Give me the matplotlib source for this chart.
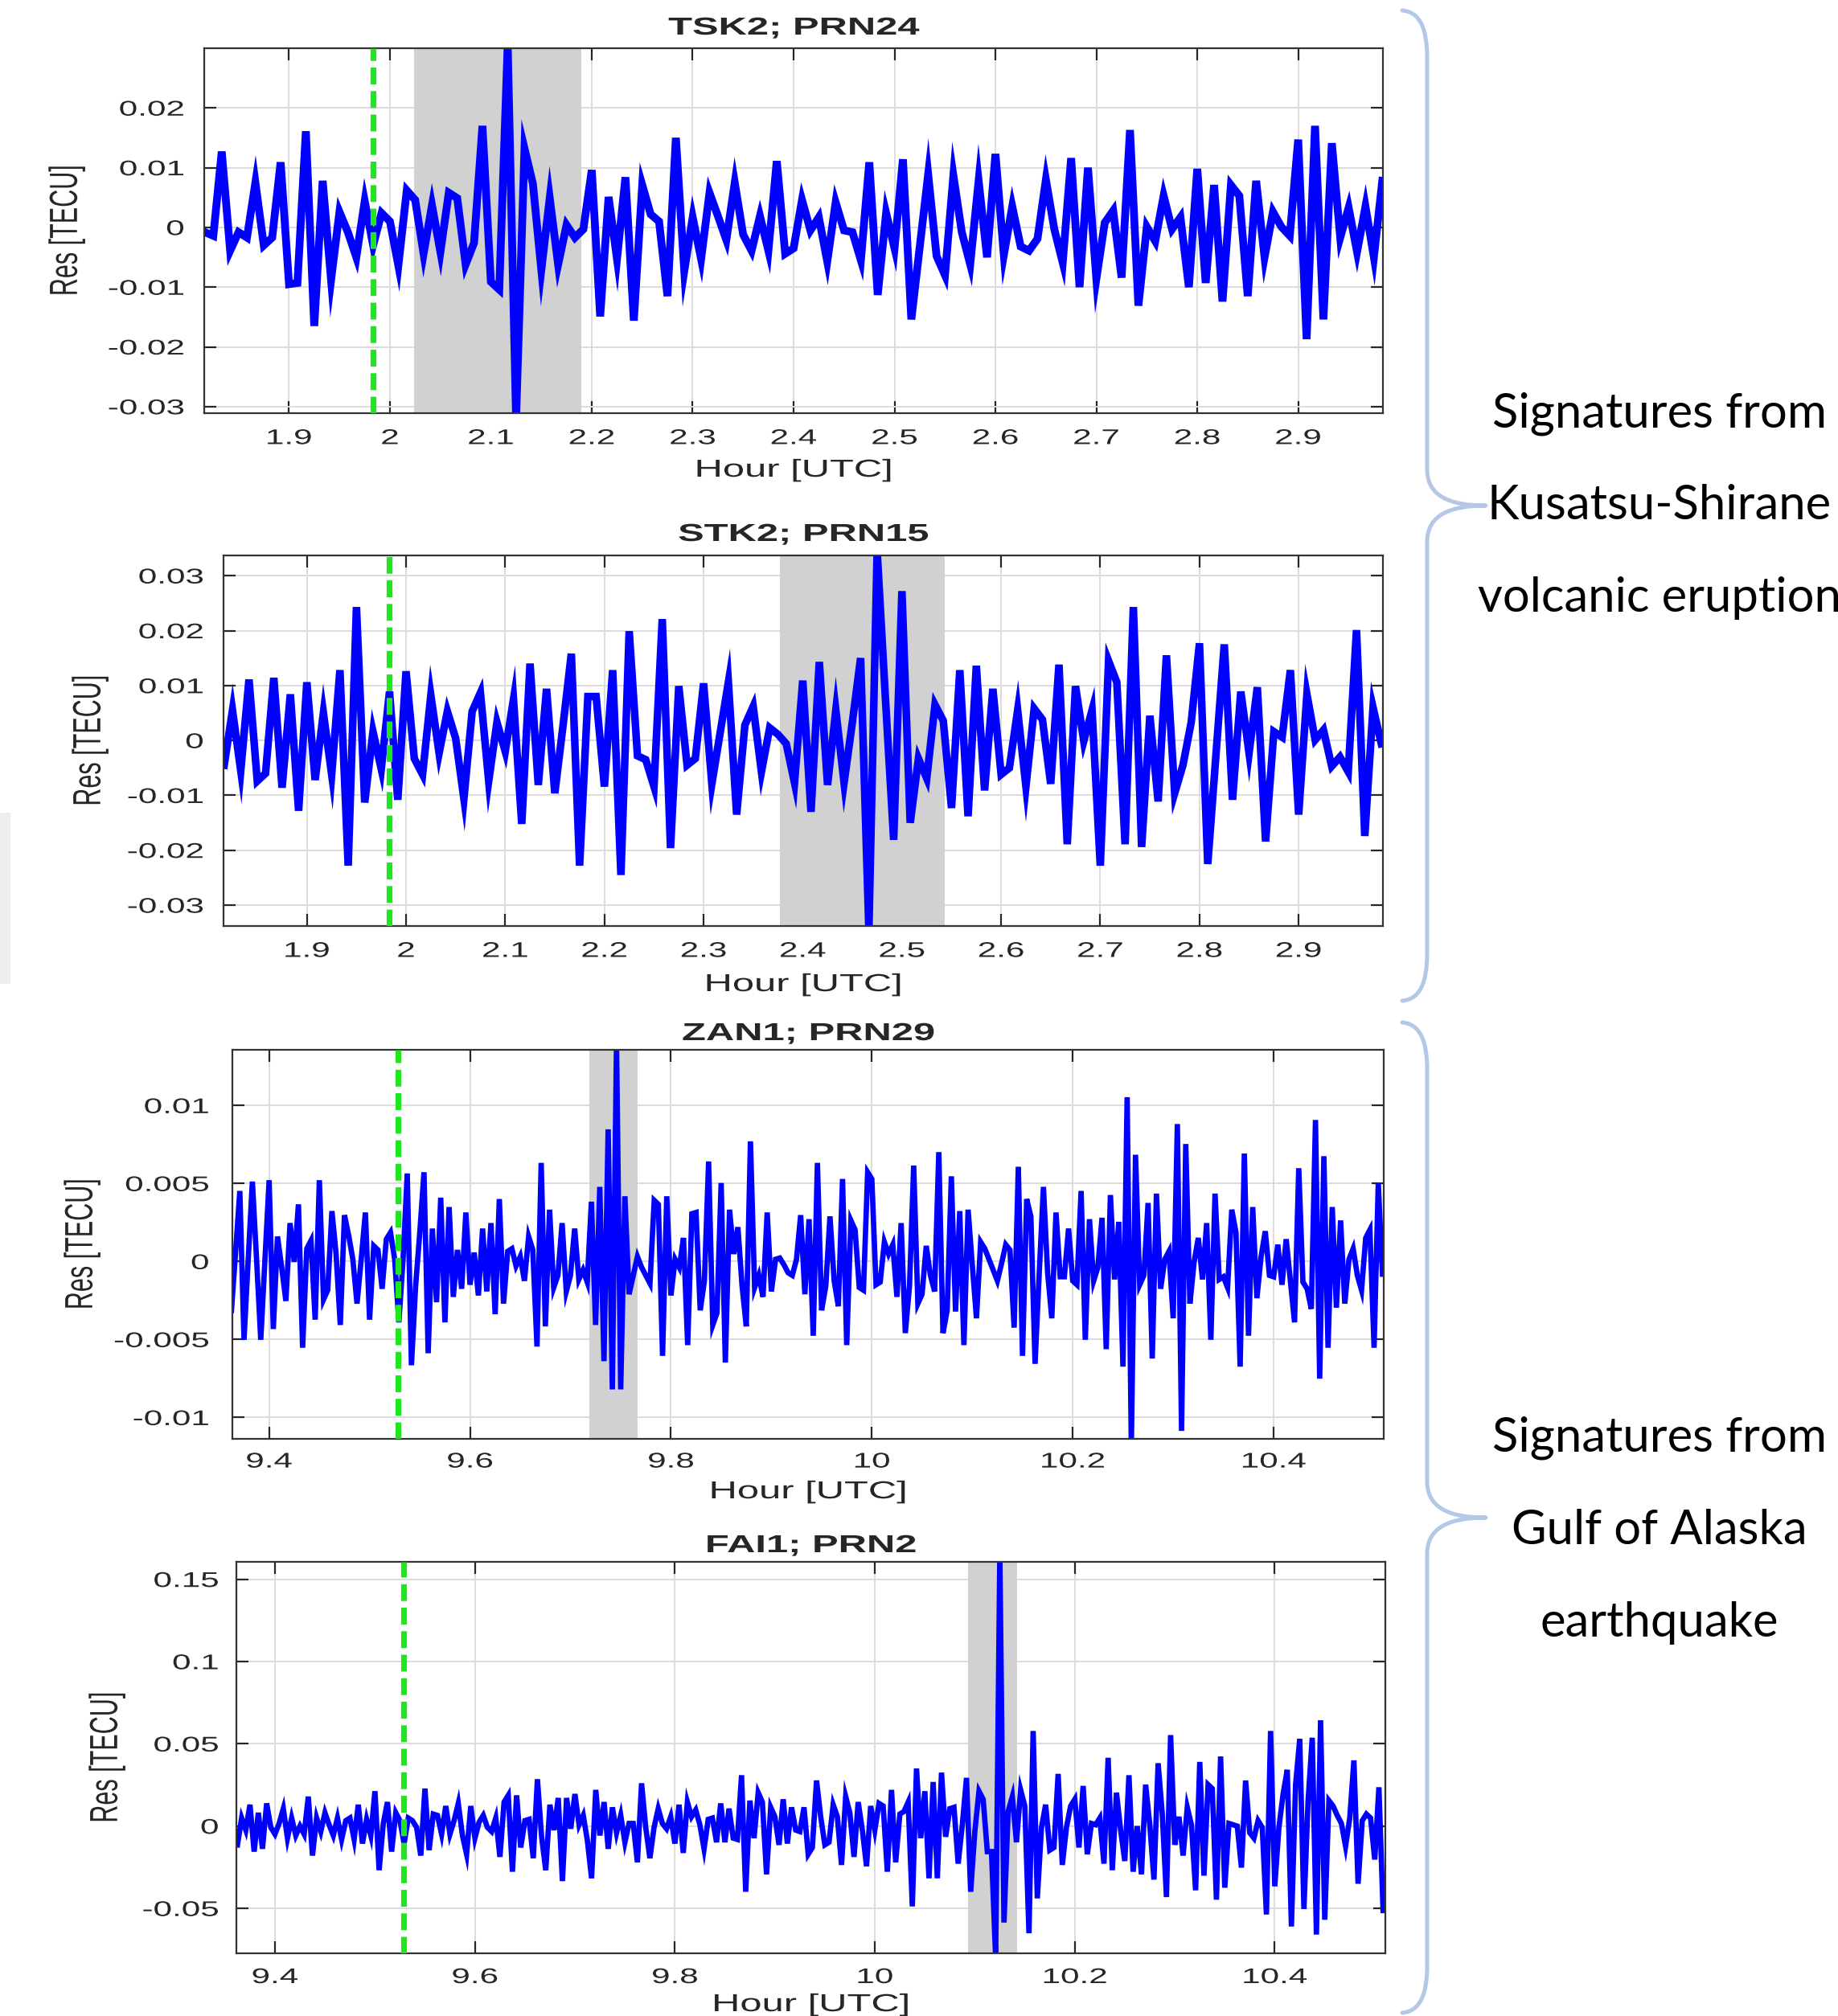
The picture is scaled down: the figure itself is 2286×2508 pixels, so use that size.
import numpy as np
import matplotlib
matplotlib.use("Agg")
import matplotlib.pyplot as plt
from matplotlib.patheffects import AbstractPathEffect
from matplotlib.transforms import Affine2D
from matplotlib.path import Path
from matplotlib.patches import PathPatch, Rectangle

# ------------------------------------------------------------------ data
titles = ["TSK2; PRN24", "STK2; PRN15", "ZAN1; PRN29", "FAI1; PRN2"]
x_label = "Hour [UTC]"
y_label = "Res [TECU]"
side_text_1 = ["Signatures from", "Kusatsu-Shirane", "volcanic eruption"]
side_text_2 = ["Signatures from", "Gulf of Alaska", "earthquake"]

# sampling of the series (start hour, step in hours)
volc_t0, volc_dt = 1.8167, 30.0 / 3600.0
quake_t0, quake_dt = 9.3625, 15.0 / 3600.0

# residuals in milli-TECU
tsk2_res = [
    -0.8, -1.4, 12.7, -3.9, -0.8, -1.7, 7.5, -3.0, -1.7, 10.9,
    -9.5, -9.3, 16.1, -16.5, 7.8, -8.8, 2.6, -0.8, -5.0, 4.4,
    -3.0, 2.4, 1.0, -6.4, 6.2, 4.6, -4.4, 3.7, -4.1, 5.8,
    4.9, -6.2, -2.6, 17.0, -9.1, -10.4, 30.5, -32.0, 13.2, 7.3,
    -7.1, 4.9, -6.2, 0.4, -1.7, -0.3, 9.6, -14.9, 5.1, -5.3,
    8.4, -15.6, 7.1, 2.2, 1.0, -11.5, 15.0, -7.3, 1.7, -5.3,
    5.8, 1.9, -2.1, 7.5, -1.2, -3.9, 1.9, -3.9, 11.1, -4.4,
    -3.5, 4.6, -0.5, 1.7, -5.7, 4.2, -0.5, -0.8, -5.5, 10.9,
    -11.3, 2.4, -3.5, 11.4, -15.4, -3.2, 8.9, -4.8, -8.0, 8.7,
    -0.8, -6.2, 7.8, -5.0, 12.3, -4.6, 3.5, -3.2, -3.9, -1.9,
    8.0, -0.3, -5.9, 11.6, -10.0, 10.0, -8.6, 0.8, 2.8, -8.4,
    16.3, -13.1, 0.1, -2.3, 5.3, -0.3, 1.7, -10.0, 9.8, -9.3,
    7.1, -12.4, 7.1, 5.3, -11.5, 7.8, -5.0, 2.6, 0.1, -1.4,
    14.7, -18.7, 17.0, -15.4, 14.1, -1.7, 3.3, -4.1, 3.5, -5.0,
    7.8,
]
stk2_res = [
    -4.5, 5.5, -5.5, 11.1, -7.4, -6.0, 11.4, -8.6, 8.4, -12.8,
    10.6, -7.2, 5.0, -6.2, 12.8, -22.8, 24.3, -11.3, 1.6, -5.2,
    8.9, -10.8, 12.6, -3.3, -6.2, 8.2, -2.3, 5.3, 0.4, -10.6,
    5.3, 8.7, -7.4, 3.3, -2.0, 7.5, -15.2, 14.0, -8.1, 9.4,
    -9.6, 2.8, 15.8, -22.8, 8.0, 8.0, -8.4, 12.8, -24.5, 19.9,
    -2.8, -3.5, -8.4, 22.1, -19.6, 9.9, -4.5, -3.3, 10.4, -7.9,
    1.4, 10.6, -13.5, 2.8, 6.2, -5.7, 2.3, 1.1, -0.6, -7.7,
    10.9, -13.0, 14.3, -8.1, 5.5, -7.7, 3.3, 15.0, -34.5, 34.5,
    7.7, -18.1, 27.2, -15.0, -3.3, -6.9, 6.5, 3.6, -12.3, 12.8,
    -13.8, 13.6, -9.1, 9.4, -6.2, -5.0, 5.5, -8.4, 5.8, 3.8,
    -7.9, 13.8, -18.9, 9.9, -0.1, 5.5, -22.8, 14.5, 10.6, -18.9,
    24.3, -19.4, 4.5, -11.1, 15.5, -9.6, -4.5, 3.3, 17.7, -22.5,
    -2.5, 17.5, -10.8, 8.9, -2.3, 9.7, -18.4, 1.6, 0.6, 12.8,
    -13.5, 8.4, 0.1, 1.9, -4.7, -3.0, -5.7, 20.1, -17.4, 6.0,
    -0.6,
]
zan1_res = [
    -3.13, 0.65, 4.52, -5.02, 0.14, 5.12, 0.14, -5.02, 0.14, 5.21,
    -4.33, 1.60, -0.38, -2.53, 2.46, -0.03, 3.66, -5.53, 0.82, 1.34,
    -3.73, 5.21, -2.44, -1.84, 3.23, 0.48, -4.07, 2.97, 1.68, 0.14,
    -2.70, 0.14, 3.14, -3.73, 1.00, 0.74, -1.75, 1.43, 1.86, 0.14,
    -3.90, 0.14, 5.64, -6.65, -1.58, 1.86, 5.72, -5.88, 2.11, -2.61,
    4.09, -3.90, 3.49, -2.27, 0.74, -1.75, 3.14, -1.49, 0.57, -2.18,
    2.11, -1.92, 2.46, -3.38, 4.00, -2.70, 0.65, 0.82, -0.29, 0.31,
    -1.24, 1.60, 0.74, -5.45, 6.32, -4.16, 3.32, -1.67, -0.89, 2.46,
    -1.92, -0.89, 2.11, -1.15, -0.55, -1.32, 3.83, -4.07, 4.78, -6.39,
    8.47, -8.20, 14.0,
    -8.20, 4.18, -2.10, -0.89, 0.31, -0.38, -0.89, -1.41, 3.92, 3.66,
    -6.05, 4.18, -2.18, 0.14, -0.38, 1.51, -5.36, 3.06, 3.14, -3.13,
    -1.24, 6.41, -4.07, -3.30, 5.03, -6.48, 3.32, 0.48, 2.20, -1.58,
    -4.16, 7.70, -1.67, -0.89, -2.27, 3.14, -1.92, 0.14, 0.22, -0.21,
    -0.72, -0.89, 0.14, 2.97, -2.10, 2.71, -4.76, 6.32, -3.13, -1.58,
    2.89, -1.24, -2.87, 5.29, -5.36, 2.63, 2.03, -1.67, -1.84, 5.72,
    5.29, -1.49, -1.32, 1.25, 0.48, 1.08, -2.27, 2.46, -4.59, -1.58,
    6.15, -2.70, -2.10, 1.00, -0.89, -1.92, 7.01, -4.59, -3.13, 5.46,
    -3.21, 3.23, -5.36, 3.32, -0.21, -3.64, 1.25, 0.82, 0.14, -0.55,
    -1.24,
    -0.12, 1.08, 0.74, -4.24, 6.07, -6.05, 4.00, 2.89, -6.56, -0.72,
    4.78, -0.72, -3.64, 3.14, -0.98, -0.98, 2.11, -1.24, -1.49, 4.52,
    -5.02, 2.71, -1.24, -0.38, 2.80, -5.62, 4.26, -1.15, 2.54, -6.74,
    10.53, -11.8, 6.84, -1.49, -0.89, 3.75, -6.22, 4.35, -1.75, 0.14,
    0.65, -3.64, 8.81, -10.86, 7.53, -2.70, -0.03, 1.51, -1.15, 2.46,
    -5.02, 4.35, -1.15, -0.98, -1.67, 3.32, 1.86, -6.74, 6.92, -4.76,
    3.49, -2.35, 0.31, 1.94, -0.89, -0.98, 1.08, -1.49, 1.43, -1.24,
    -3.90, 5.98, -1.32, -1.75, -3.04, 9.07, -7.51, 6.75, -5.53, 3.49,
    -2.96, 2.63, -2.70, 0.14, 0.82, -0.89, -1.84, 1.51, 2.03, -5.53,
    5.03, -0.81,
]
fai1_res = [
    -11.4, 4.9, -2.4, 13.0, -15.5, 8.1, -13.8, 13.8, -0.8, -4.9,
    1.6, 10.6, -7.3, 4.9, -5.7, 0.0, -4.9, 17.9, -17.9, 4.9,
    -3.3, 8.1, 0.8, -5.7, 4.9, -8.1, 3.3, 4.9, -8.1, 13.0,
    -10.6, 4.1, -5.7, 21.2, -26.8, 1.6, 14.6, -15.5, 8.1, 3.3,
    -10.6, 4.9, 3.3, -0.8, -17.9, 22.8, -14.6, 7.3, 6.5, -4.9,
    12.2, -4.9, 3.3, 13.8, -5.7, -17.1, 12.2, -7.3, 2.4, 6.5,
    -0.8, -3.3, 4.9, -18.7, 14.6, 18.7, -27.7, 18.7, -13.0, 3.3,
    4.1, -19.5, 28.5, -6.5, -26.8, 13.0, -2.4, 17.1, -33.4, 17.1,
    -1.6, 19.5, 0.8, 6.5, -8.9, -31.7, 22.0, -5.7, 14.6, -13.8,
    11.4, -4.1, 6.5,
    -9.8, 1.6, 1.6, -22.0, 26.0, -0.8, -19.5, -0.8, 10.6, 1.6,
    -1.6, 5.7, -10.6, 13.0, -16.3, 14.6, 5.7, 9.8, 0.8, -13.8,
    4.1, 4.9, -9.8, 13.8, -9.8, 10.6, -7.3, -8.1, 30.9, -39.9,
    15.5, -7.3, 20.3, 14.6, -29.3, 11.4, 5.7, -11.4, 16.3, -10.6,
    11.4, -2.4, -3.3, 11.4, -17.1, -13.0, 27.7, 5.7, -11.4, -9.8,
    13.0, 5.7, -23.6, 17.9, 8.1, -18.7, 14.6, -2.4, -24.4, 12.2,
    -2.4, 13.8, 12.2, -27.7, 22.0, -22.0, 7.3, 8.9, 14.6, -48.8,
    35.0, -7.3, 21.2, -31.7, 26.8, -31.7, 32.5, -6.5, 10.6, 11.4,
    -22.8, 0.8, 29.3, -39.9, -3.3, 21.2, 16.3, -15.5, -15.5, -80.0,
    165.0,
    -58.6, 8.9, 17.9, -9.8, 22.0, 12.2, -65.1, 57.8, -43.9, -0.8,
    13.0, -14.6, -13.0, 31.7, -23.6, -0.8, 12.2, 16.3, -13.0, 24.4,
    -17.1, 1.6, 0.8, 4.9, -22.8, 41.5, -26.8, 20.3, -2.4, -21.2,
    30.9, -27.7, 0.0, -29.3, 25.2, 0.8, -32.5, 38.2, 7.3, -43.1,
    55.3, -11.4, 5.7, -17.9, 11.4, 0.8, -39.0, 39.0, -30.1, 25.2,
    22.8, -44.7, 42.3, -37.4, 1.6, 0.8, 0.0, -25.2, 27.7, -4.1,
    -7.3, 3.3, -0.8, -53.7, 57.8, -36.6, -0.8, 19.5, 34.2, -61.0,
    25.2, 52.9, -50.4, 15.5, 53.7, -65.9, 64.3, -56.9, 15.5, 12.2,
    6.5, 1.6, -12.2, 4.9, 39.9, -35.0, 3.3, 7.3, 4.9, -20.3,
    23.6, -51.3,
]

# event markers (hours) and highlighted windows
event_hour = [1.983, 1.983, 9.5285, 9.5283]
window_start = [2.024, 2.3766, 9.7186, 10.0935]
window_end = [2.190, 2.5434, 9.7669, 10.1423]

# axis ranges
x_ranges = [(1.816, 2.984), (1.816, 2.985), (9.3634, 10.5096), (9.3614, 10.5106)]
y_ranges = [(-0.0311, 0.0300), (-0.0338, 0.0337), (-0.01137, 0.01357), (-0.0773, 0.1606)]

# ticks
volc_xticks = [1.9, 2.0, 2.1, 2.2, 2.3, 2.4, 2.5, 2.6, 2.7, 2.8, 2.9]
quake_xticks = [9.4, 9.6, 9.8, 10.0, 10.2, 10.4]
yticks_list = [
    [0.02, 0.01, 0.0, -0.01, -0.02, -0.03],
    [0.03, 0.02, 0.01, 0.0, -0.01, -0.02, -0.03],
    [0.01, 0.005, 0.0, -0.005, -0.01],
    [0.15, 0.1, 0.05, 0.0, -0.05],
]

# ------------------------------------------------------------------ style helpers
W, H, DPI = 2286, 2508, 100
SX = 1.6  # the source panels are horizontally stretched

plt.rcParams["font.family"] = ["Liberation Sans", "DejaVu Sans"]


class HStretch(AbstractPathEffect):
    """Stretch rendered text horizontally about an anchor."""

    def __init__(self, sx=SX, anchor="center"):
        super().__init__()
        self.sx = sx
        self.anchor = anchor

    def draw_path(self, renderer, gc, tpath, affine, rgbFace=None):
        ext = tpath.get_extents(affine)
        if self.anchor == "right":
            cx = ext.x1
        elif self.anchor == "left":
            cx = ext.x0
        else:
            cx = 0.5 * (ext.x0 + ext.x1)
        tr = affine + Affine2D().translate(-cx, 0).scale(self.sx, 1.0).translate(cx, 0)
        renderer.draw_path(gc, tpath, tr, rgbFace)


def rect(l, r, t, b):
    return [l / W, 1 - b / H, (r - l) / W, (b - t) / H]


fig = plt.figure(figsize=(W / DPI, H / DPI), dpi=DPI)
fig.patch.set_facecolor("white")

# background layer (braces, side text)
bg = fig.add_axes([0, 0, 1, 1], zorder=-10)
bg.set_xlim(0, W)
bg.set_ylim(H, 0)
bg.axis("off")

# faint grey strip at the left edge
bg.add_patch(Rectangle((0, 1011), 13, 213, facecolor="#ededed", edgecolor="none"))


def brace(ax, x_end, x_spine, x_tip, y_top, y_bot, color="#b4c7e7"):
    ym = 0.5 * (y_top + y_bot)
    verts = [
        (x_end, y_top), (x_end + 22, y_top + 2), (x_spine, y_top + 22), (x_spine, y_top + 60),
        (x_spine, ym - 45),
        (x_spine, ym - 12), (x_tip - 45, ym), (x_tip, ym),
        (x_tip - 45, ym), (x_spine, ym + 12), (x_spine, ym + 45),
        (x_spine, y_bot - 60),
        (x_spine, y_bot - 22), (x_end + 22, y_bot - 2), (x_end, y_bot),
    ]
    C, L, M = Path.CURVE4, Path.LINETO, Path.MOVETO
    codes = [M, C, C, C, L, C, C, C, C, C, C, L, C, C, C]
    ax.add_patch(PathPatch(Path(verts, codes), facecolor="none", edgecolor=color,
                           lw=3.6, capstyle="round", joinstyle="round"))


brace(bg, 1744, 1775, 1848, 13, 1245)
brace(bg, 1744, 1775, 1848, 1272, 2504)

side_y1 = [515, 629, 744]
side_y2 = [1789, 1904, 2019]
for s, y in zip(side_text_1, side_y1):
    bg.text(2064, y, s, ha="center", va="center", fontsize=43, family="Lato", color="black")
for s, y in zip(side_text_2, side_y2):
    bg.text(2064, y, s, ha="center", va="center", fontsize=43, family="Lato", color="black")

# ------------------------------------------------------------------ panels
series = [
    (volc_t0 + volc_dt * np.arange(len(tsk2_res)), np.array(tsk2_res) * 1e-3),
    (volc_t0 + volc_dt * np.arange(len(stk2_res)), np.array(stk2_res) * 1e-3),
    (quake_t0 + quake_dt * np.arange(len(zan1_res)), np.array(zan1_res) * 1e-3),
    (quake_t0 + quake_dt * np.arange(len(fai1_res)), np.array(fai1_res) * 1e-3),
]
xticks_list = [volc_xticks, volc_xticks, quake_xticks, quake_xticks]

boxes = [(254, 1720, 60, 514), (278, 1720, 691, 1152), (289, 1721, 1306, 1790), (294, 1723, 1943, 2430)]
title_y = [35, 665, 1286, 1923]
xlabel_y = [585, 1225, 1856, 2494]
ylabel_x = [83, 112, 102, 133]
line_w = [7.0, 6.8, 4.8, 4.8]
xpad = [14, 14, 12, 13]
ypad = [18, 18, 21, 16]

txt_color = "#262626"

for i in range(4):
    l, r, t, b = boxes[i]
    ax = fig.add_axes(rect(l, r, t, b))
    ax.set_axisbelow(True)
    tt, yy = series[i]
    ax.axvspan(window_start[i], window_end[i], facecolor="#d1d1d1", edgecolor="none", zorder=1)
    ax.plot(tt, yy, color="#0000ff", lw=line_w[i], solid_joinstyle="miter", zorder=2)
    ax.axvline(event_hour[i], color="#1fe61f", lw=5.2, linestyle=(0, (2.9, 1.15)), zorder=3)
    ax.set_xlim(*x_ranges[i])
    ax.set_ylim(*y_ranges[i])
    ax.set_xticks(xticks_list[i])
    ax.set_xticklabels([f"{v:g}" for v in xticks_list[i]])
    ax.set_yticks(yticks_list[i])
    ax.set_yticklabels([f"{v:g}" for v in yticks_list[i]])
    ax.grid(True, color="#dcdcdc", lw=1.4)
    ax.tick_params(direction="in", length=11, width=1.6, top=True, right=True,
                   colors=txt_color, labelsize=19)
    ax.tick_params(axis="x", pad=xpad[i])
    ax.tick_params(axis="y", pad=ypad[i])
    for sp in ax.spines.values():
        sp.set_color("#333333")
        sp.set_linewidth(1.6)
    for tk in ax.xaxis.get_major_ticks():
        tk.label1.set_path_effects([HStretch(SX, "center")])
    for tk in ax.yaxis.get_major_ticks():
        tk.label1.set_path_effects([HStretch(SX, "right")])

    cx = 0.5 * (l + r) / W
    fig.text(cx, 1 - title_y[i] / H, titles[i], ha="center", va="center", fontsize=22,
             fontweight="bold", color=txt_color, path_effects=[HStretch(SX, "center")])
    fig.text(cx, 1 - xlabel_y[i] / H, x_label, ha="center", va="center", fontsize=22,
             color=txt_color, path_effects=[HStretch(SX, "center")])
    fig.text(ylabel_x[i] / W, 1 - 0.5 * (t + b) / H, y_label, ha="center", va="center",
             fontsize=22, rotation=90, color=txt_color, path_effects=[HStretch(SX, "center")])

fig.savefig("out.png", dpi=DPI, facecolor="white")
